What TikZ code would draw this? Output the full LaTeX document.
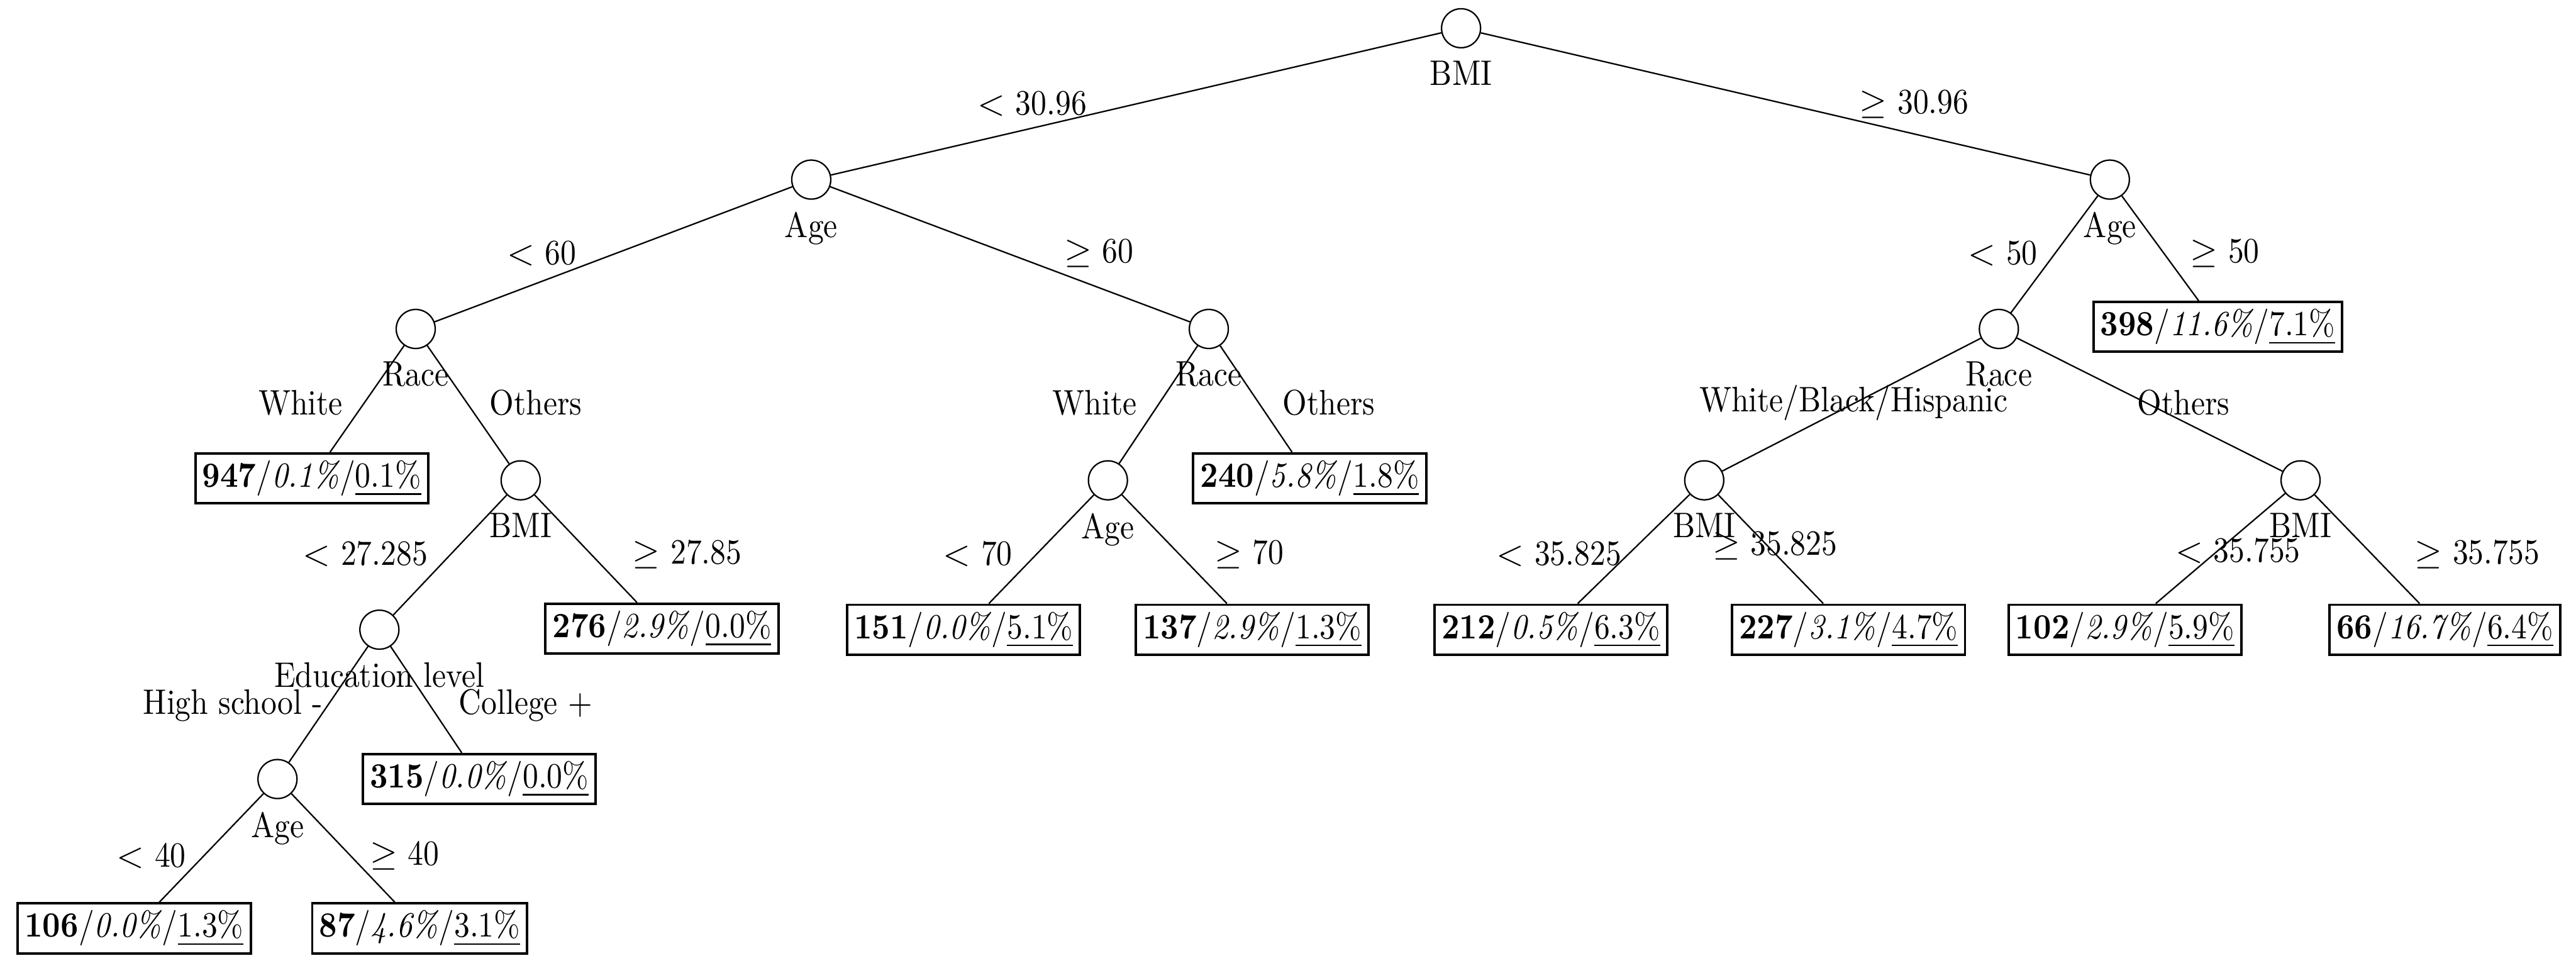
\documentclass[tikz,border=0pt]{standalone}
\usepackage{amsmath}
\usepackage{fontspec}
\setmainfont{Latin Modern Roman}[FakeStretch=0.88]
\usepackage{tikz}

\tikzset{
  split/.style={circle,draw,minimum size=11pt,inner sep=0pt,label distance=1.5pt},
  leaf/.style={draw,line width=0.7pt,inner sep=2pt},
}
\newcommand{\leaftext}[3]{\textbf{#1}/\textit{#2\%}/\underline{#3\%}}

\begin{document}
\begin{tikzpicture}
  \useasboundingbox (0,0) rectangle (25.53,9.59);
  % splits
  \node[split,label=below:BMI] (bmi0) at (14.48,9.31) {};
  \node[split,label=below:Age] (ageL) at (8.04,7.81) {};
  \node[split,label=below:Age] (ageR) at (20.91,7.81) {};
  \node[split,label=below:Race] (raceL) at (4.12,6.33) {};
  \node[split,label=below:Race] (raceM) at (11.98,6.33) {};
  \node[split,label=below:Race] (raceR) at (19.81,6.33) {};
  \node[split,label=below:BMI] (bmiL) at (5.16,4.83) {};
  \node[split,label=below:Age] (ageM) at (10.98,4.83) {};
  \node[split,label=below:BMI] (bmiM) at (16.89,4.83) {};
  \node[split,label=below:BMI] (bmiR) at (22.80,4.83) {};
  \node[split,label=below:Education level] (edu) at (3.76,3.35) {};
  \node[split,label=below:Age] (ageE) at (2.75,1.87) {};
  % leaves
  \node[leaf] (l398) at (21.98,6.35) {\leaftext{398}{11.6}{7.1}};
  \node[leaf] (l947) at (3.09,4.85) {\leaftext{947}{0.1}{0.1}};
  \node[leaf] (l240) at (12.98,4.85) {\leaftext{240}{5.8}{1.8}};
  \node[leaf] (l276) at (6.56,3.36) {\leaftext{276}{2.9}{0.0}};
  \node[leaf] (l151) at (9.55,3.35) {\leaftext{151}{0.0}{5.1}};
  \node[leaf] (l137) at (12.41,3.35) {\leaftext{137}{2.9}{1.3}};
  \node[leaf] (l212) at (15.37,3.35) {\leaftext{212}{0.5}{6.3}};
  \node[leaf] (l227) at (18.32,3.35) {\leaftext{227}{3.1}{4.7}};
  \node[leaf] (l102) at (21.06,3.35) {\leaftext{102}{2.9}{5.9}};
  \node[leaf] (l66) at (24.23,3.35) {\leaftext{66}{16.7}{6.4}};
  \node[leaf] (l315) at (4.75,1.87) {\leaftext{315}{0.0}{0.0}};
  \node[leaf] (l106) at (1.33,0.39) {\leaftext{106}{0.0}{1.3}};
  \node[leaf] (l87) at (4.16,0.39) {\leaftext{87}{4.6}{3.1}};
  % branches
  \draw (bmi0) -- (ageL);
  \draw (bmi0) -- (ageR);
  \draw (ageL) -- (raceL);
  \draw (ageL) -- (raceM);
  \draw (ageR) -- (raceR);
  \draw (ageR) -- (l398);
  \draw (raceL) -- (l947);
  \draw (raceL) -- (bmiL);
  \draw (raceM) -- (ageM);
  \draw (raceM) -- (l240);
  \draw (raceR) -- (bmiM);
  \draw (raceR) -- (bmiR);
  \draw (bmiL) -- (edu);
  \draw (bmiL) -- (l276);
  \draw (ageM) -- (l151);
  \draw (ageM) -- (l137);
  \draw (bmiM) -- (l212);
  \draw (bmiM) -- (l227);
  \draw (bmiR) -- (l102);
  \draw (bmiR) -- (l66);
  \draw (edu) -- (ageE);
  \draw (edu) -- (l315);
  \draw (ageE) -- (l106);
  \draw (ageE) -- (l87);
  % branch labels
  \node (c1) at (10.23,8.56) {$<$ 30.96};
  \node (c2) at (18.97,8.56) {$\geq$ 30.96};
  \node (c3) at (5.37,7.08) {$<$ 60};
  \node (c4) at (10.89,7.08) {$\geq$ 60};
  \node (c5) at (19.85,7.08) {$<$ 50};
  \node (c6) at (22.05,7.08) {$\geq$ 50};
  \node (c7) at (2.98,5.60) {White};
  \node (c8) at (5.31,5.60) {Others};
  \node (c9) at (10.85,5.60) {White};
  \node (c10) at (13.17,5.60) {Others};
  \node (c11) at (18.37,5.60) {White/Black/Hispanic};
  \node (c12) at (21.64,5.60) {Others};
  \node (c13) at (3.62,4.10) {$<$ 27.285};
  \node (c14) at (6.81,4.10) {$\geq$ 27.85};
  \node (c15) at (9.69,4.10) {$<$ 70};
  \node (c16) at (12.38,4.10) {$\geq$ 70};
  \node (c17) at (15.45,4.10) {$<$ 35.825};
  \node (c18) at (17.59,4.18) {$\geq$ 35.825};
  \node (c19) at (22.18,4.13) {$<$ 35.755};
  \node (c20) at (24.55,4.10) {$\geq$ 35.755};
  \node (c21) at (2.31,2.60) {High school -};
  \node (c22) at (5.21,2.60) {College +};
  \node (c23) at (1.50,1.11) {$<$ 40};
  \node (c24) at (4.01,1.11) {$\geq$ 40};
\end{tikzpicture}
\end{document}
